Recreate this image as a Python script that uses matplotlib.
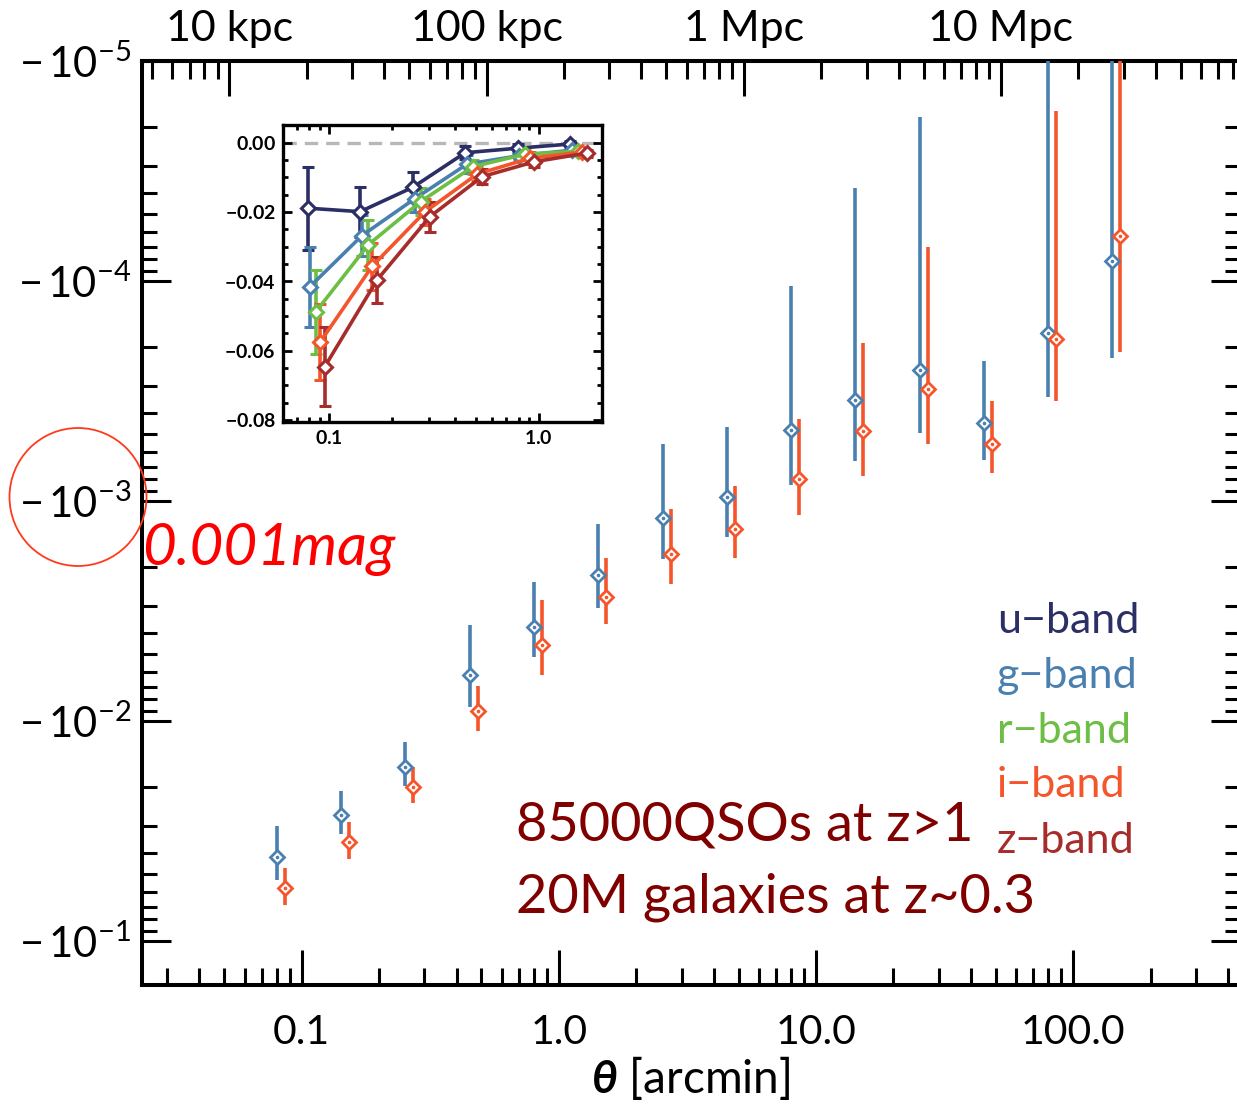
import numpy as np
import matplotlib
matplotlib.use("Agg")
import matplotlib.pyplot as plt
from matplotlib.ticker import LogLocator, FixedLocator, FuncFormatter, NullFormatter, MultipleLocator
from matplotlib.patches import Ellipse

plt.rcParams['font.family'] = ['Lato', 'DejaVu Sans']
plt.rcParams['mathtext.fontset'] = 'custom'
plt.rcParams['mathtext.rm'] = 'Lato'
plt.rcParams['mathtext.it'] = 'Lato:italic:bold'
plt.rcParams['mathtext.bf'] = 'Lato:bold'

# angular bins [arcmin]
theta = [0.080, 0.142, 0.253, 0.450, 0.800, 1.42, 2.53, 4.50, 8.00, 14.2, 25.3, 45.0, 80.0, 142.0]

# mean magnitude shift of background QSOs, g and i band, all bins
dm_g = [-0.0416, -0.0268, -0.0162, -0.00619, -0.00374, -0.00217, -0.00120, -0.00096,
        -0.000476, -0.000348, -0.000254, -0.000442, -0.000172, -0.0000811]
err_g = [0.0115, 0.0060, 0.0037, 0.0025, 0.0014, 0.0009, 0.00065, 0.00050,
         0.00037, 0.00031, 0.000236, 0.00021, 0.000165, 0.000143]
dm_i = [-0.0576, -0.0356, -0.0200, -0.00903, -0.00452, -0.00273, -0.00174, -0.00134,
        -0.000795, -0.000481, -0.000310, -0.000551, -0.000184, -0.0000624]
err_i = [0.0110, 0.0068, 0.0037, 0.0021, 0.0017, 0.0009, 0.00065, 0.00048,
         0.00037, 0.00029, 0.00024, 0.00020, 0.000167, 0.000148]

# inner six bins for u, r, z
dm_u = [-0.0189, -0.0199, -0.0129, -0.0029, -0.0016, -0.0004]
err_u = [0.0120, 0.0072, 0.0043, 0.0018, 0.0012, 0.0010]
dm_r = [-0.0488, -0.0295, -0.0170, -0.0069, -0.0033, -0.0025]
err_r = [0.0121, 0.0072, 0.0040, 0.0020, 0.0013, 0.0009]
dm_z = [-0.0646, -0.0396, -0.0214, -0.0098, -0.0055, -0.0030]
err_z = [0.0114, 0.0067, 0.0043, 0.0022, 0.0015, 0.0010]

bands = ['u', 'g', 'r', 'i', 'z']
colors = {'u': '#2c2f66', 'g': '#4a80b0', 'r': '#6cbf44', 'i': '#f4552a', 'z': '#a62d2b'}

kpc_per_arcmin = 191.0

W, H = 1237, 1111
fig = plt.figure(figsize=(W / 100, H / 100), dpi=100)


def fx(px):
    return px / W


def fy(py):
    return 1 - py / H


# ---------------- main panel ----------------
ax = fig.add_axes([fx(142.3), fy(985), fx(1239.5) - fx(142.3), fy(60.7) - fy(985)])
ax.set_xscale('log')
ax.set_yscale('log')
ax.set_xlim(0.024, 443)
ax.set_ylim(0.159, 1e-5)

main_shift = {'g': 0.0, 'i': 0.031}   # small horizontal offsets in dex
for b, dm, er in (('g', dm_g, err_g), ('i', dm_i, err_i)):
    t = np.array(theta) * 10 ** main_shift[b]
    m = -np.array(dm)
    e = np.array(er)
    lo = m - np.maximum(m - e, 1e-9)
    hi = e
    ax.errorbar(t, m, yerr=[lo, hi], fmt='none', ecolor=colors[b], elinewidth=2.6, capsize=0, zorder=3)
    ax.plot(t, m, ls='none', marker='D', ms=7.3, mfc='white', mec=colors[b], mew=2.0, zorder=4)
    ax.plot(t, m, ls='none', marker='o', ms=1.6, mfc=colors[b], mec=colors[b], zorder=5)

for s in ax.spines.values():
    s.set_linewidth(2.9)

ax.xaxis.set_major_locator(FixedLocator([0.1, 1, 10, 100]))
ax.xaxis.set_major_formatter(FuncFormatter(lambda v, p: f'{v:.1f}'))
ax.xaxis.set_minor_locator(LogLocator(base=10, subs=np.arange(2, 10), numticks=50))
ax.xaxis.set_minor_formatter(NullFormatter())
ax.yaxis.set_major_locator(FixedLocator([1e-5, 1e-4, 1e-3, 1e-2, 1e-1]))
ax.yaxis.set_major_formatter(FuncFormatter(
    lambda v, p: r'$\mathrm{-\,10^{%d}}$' % int(round(np.log10(v)))))
ax.yaxis.set_minor_locator(LogLocator(base=10, subs=np.arange(2, 10), numticks=50))
ax.yaxis.set_minor_formatter(NullFormatter())

ax.tick_params(axis='x', which='major', direction='in', length=25, width=2.2, bottom=True, top=False,
               labelsize=29.5, pad=21)
ax.tick_params(axis='x', which='minor', direction='in', length=12, width=2.2, bottom=True, top=False)
ax.tick_params(axis='y', which='major', direction='in', length=21, width=2.2, left=True, right=True,
               labelsize=30, pad=8)
ax.tick_params(axis='y', which='minor', direction='in', length=11, width=2.2, left=True, right=True)
ax.set_xlabel(r'$\theta$ [arcmin]', fontsize=33, labelpad=2)

sec = ax.secondary_xaxis('top', functions=(lambda t: t * kpc_per_arcmin, lambda d: d / kpc_per_arcmin))
sec.xaxis.set_major_locator(FixedLocator([10, 100, 1000, 10000]))
sec.xaxis.set_major_formatter(FuncFormatter(
    lambda v, p: {10: '10 kpc', 100: '100 kpc', 1000: '1 Mpc', 10000: '10 Mpc'}.get(int(round(v)), '')))
sec.xaxis.set_minor_locator(LogLocator(base=10, subs=np.arange(2, 10), numticks=50))
sec.xaxis.set_minor_formatter(NullFormatter())
sec.tick_params(axis='x', which='major', direction='in', length=25, width=2.2, labelsize=31, pad=9)
sec.tick_params(axis='x', which='minor', direction='in', length=13, width=2.2)
sec.spines['top'].set_linewidth(2.9)

# band labels
legend_base = [633, 688, 743, 797, 853]
for b, py in zip(bands, legend_base):
    fig.text(fx(997), fy(py), f'{b}\u2212band', color=colors[b], fontsize=31, va='baseline', ha='left')

fig.text(fx(516), fy(840), '85000QSOs at z>1', color='#800000', fontsize=39, va='baseline', ha='left')
fig.text(fx(516), fy(913), '20M galaxies at z~0.3', color='#800000', fontsize=39, va='baseline', ha='left')
fig.text(fx(142), fy(565), '0.001mag', color='#ff0000', fontsize=42, style='italic',
         va='baseline', ha='left')

circ = Ellipse((fx(78), fy(497)), fx(137), 138 / H, transform=fig.transFigure, fill=False,
               edgecolor='#ff3a1c', lw=1.3)
fig.add_artist(circ)

# ---------------- inset ----------------
axi = fig.add_axes([fx(282.7), fy(421.7), fx(602) - fx(282.7), fy(125) - fy(421.7)])
axi.set_xscale('log')
axi.set_xlim(0.06, 2.0)
axi.set_ylim(-0.0805, 0.0051)
axi.axhline(0.0, color='#b8b8b8', lw=2.4, ls=(0, (4.0, 2.4)), zorder=1)

inset_shift = {'u': -0.005, 'g': 0.004, 'r': 0.033, 'i': 0.053, 'z': 0.076}
inset_data = {'u': (dm_u, err_u), 'g': (dm_g[:6], err_g[:6]), 'r': (dm_r, err_r),
              'i': (dm_i[:6], err_i[:6]), 'z': (dm_z, err_z)}
for b in bands:
    dm, er = inset_data[b]
    t = np.array(theta[:6]) * 10 ** inset_shift[b]
    axi.errorbar(t, dm, yerr=er, fmt='-', color=colors[b], lw=2.6, elinewidth=2.6,
                 capsize=4.3, capthick=2.6, marker='D', ms=7, mfc='white', mec=colors[b], mew=2.2,
                 zorder=3)

for s in axi.spines.values():
    s.set_linewidth(2.4)
axi.xaxis.set_major_locator(FixedLocator([0.1, 1.0]))
axi.xaxis.set_major_formatter(FuncFormatter(lambda v, p: r'$\mathbf{%.1f}$' % v))
axi.xaxis.set_minor_locator(LogLocator(base=10, subs=np.arange(2, 10), numticks=50))
axi.xaxis.set_minor_formatter(NullFormatter())
axi.yaxis.set_major_locator(MultipleLocator(0.02))
axi.yaxis.set_major_formatter(FuncFormatter(
    lambda v, p: r'$\mathbf{%s}$' % ('0.00' if abs(v) < 1e-9 else f'{v:.2f}')))
axi.yaxis.set_minor_locator(MultipleLocator(0.005))
axi.tick_params(which='both', direction='in', top=True, right=True, width=2.0)
axi.tick_params(which='major', length=6.5, labelsize=14, pad=5)
axi.tick_params(which='minor', length=3.5)

fig.savefig('out.png', dpi=100)
